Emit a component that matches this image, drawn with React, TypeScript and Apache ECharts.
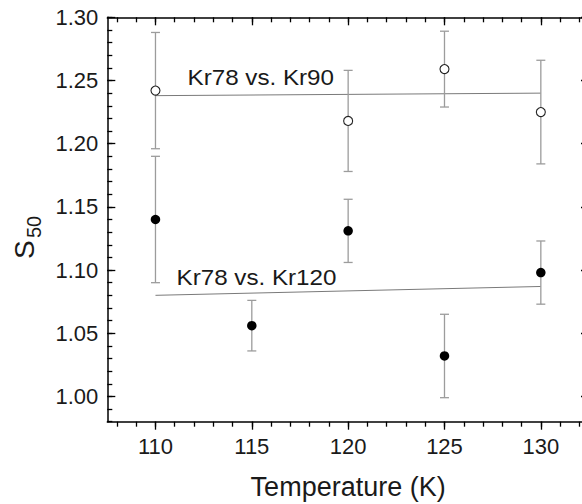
import React, { useEffect, useRef } from "react";
import * as echarts from "echarts";

// ---- data ----
const temps90 = [110, 120, 125, 130];
const s90 = [1.242, 1.218, 1.259, 1.225];
const err90 = [0.046, 0.040, 0.030, 0.041];

const temps120 = [110, 115, 120, 125, 130];
const s120 = [1.140, 1.056, 1.131, 1.032, 1.098];
const err120 = [0.050, 0.020, 0.025, 0.033, 0.025];

const fit90X = [110, 130];
const fit90Y = [1.238, 1.240];
const fit120X = [110, 130];
const fit120Y = [1.080, 1.087];

const xMajor = [110, 115, 120, 125, 130];
const xMinor = [108, 109, 110, 111, 112, 113, 114, 115, 116, 117, 118, 119, 120, 121, 122, 123, 124, 125, 126, 127, 128, 129, 130, 131, 132];
const yMajor = [1.0, 1.05, 1.1, 1.15, 1.2, 1.25, 1.3];
const yMinor = [0.98, 0.99, 1.0, 1.01, 1.02, 1.03, 1.04, 1.05, 1.06, 1.07, 1.08, 1.09, 1.1, 1.11, 1.12, 1.13, 1.14, 1.15, 1.16, 1.17, 1.18, 1.19, 1.2, 1.21, 1.22, 1.23, 1.24, 1.25, 1.26, 1.27, 1.28, 1.29, 1.3];

const label90 = "Kr78 vs. Kr90";
const label120 = "Kr78 vs. Kr120";
const xName = "Temperature (K)";

const FONT = '"Liberation Sans", Arial, Helvetica, sans-serif';
const TXT = "#1a1a1a";
const X_MIN = 107.5, X_MAX = 132.5, Y_MIN = 0.98, Y_MAX = 1.3;

export default function App() {
  const ref = useRef<HTMLDivElement>(null);
  useEffect(() => {
    if (!ref.current) return;
    const chart = echarts.init(ref.current, undefined, { renderer: "svg" });

    const errData = [
      ...temps90.map((t, i) => [t, s90[i] - err90[i], s90[i] + err90[i]]),
      ...temps120.map((t, i) => [t, s120[i] - err120[i], s120[i] + err120[i]]),
    ];

    const axisLine = { show: true, lineStyle: { color: "#000", width: 1.5 } };
    const tickStyle = { color: "#000", width: 1.3 };

    const xBase = { type: "value", min: X_MIN, max: X_MAX, splitLine: { show: false } };
    const yBase = { type: "value", min: Y_MIN, max: Y_MAX, splitLine: { show: false } };

    const option: any = {
      animation: false,
      grid: { left: 107.3, top: 17.3, right: -7, bottom: 82.3, containLabel: false, outerBoundsMode: "none" },
      xAxis: [
        {
          ...xBase, position: "bottom", axisLine,
          axisTick: { show: true, inside: false, length: 8, customValues: xMajor, lineStyle: tickStyle },
          axisLabel: { show: true, customValues: xMajor, fontSize: 22, fontFamily: FONT, color: TXT, margin: 14 },
          name: xName, nameLocation: "middle", nameGap: 52,
          nameTextStyle: { fontSize: 27, fontFamily: FONT, color: TXT },
        },
        {
          ...xBase, position: "bottom", axisLine: { show: false },
          axisTick: { show: true, inside: false, length: 5, customValues: xMinor, lineStyle: tickStyle },
          axisLabel: { show: false },
        },
        {
          ...xBase, position: "top", axisLine,
          axisTick: { show: true, inside: true, length: 8, customValues: xMajor, lineStyle: tickStyle },
          axisLabel: { show: false },
        },
        {
          ...xBase, position: "top", axisLine: { show: false },
          axisTick: { show: true, inside: true, length: 5, customValues: xMinor, lineStyle: tickStyle },
          axisLabel: { show: false },
        },
      ],
      yAxis: [
        {
          ...yBase, position: "left", axisLine,
          axisTick: { show: true, inside: true, length: 8, customValues: yMajor, lineStyle: tickStyle },
          axisLabel: {
            show: true, customValues: yMajor, fontSize: 22, fontFamily: FONT, color: TXT, margin: 9,
            formatter: (v: number) => v.toFixed(2),
          },
        },
        {
          ...yBase, position: "left", axisLine: { show: false },
          axisTick: { show: true, inside: true, length: 5, customValues: yMinor, lineStyle: tickStyle },
          axisLabel: { show: false },
        },
        {
          ...yBase, position: "right", axisLine,
          axisTick: { show: true, inside: true, length: 8, customValues: yMajor, lineStyle: tickStyle },
          axisLabel: { show: false },
        },
        {
          ...yBase, position: "right", axisLine: { show: false },
          axisTick: { show: true, inside: true, length: 5, customValues: yMinor, lineStyle: tickStyle },
          axisLabel: { show: false },
        },
      ],
      series: [
        {
          type: "line", xAxisIndex: 0, yAxisIndex: 0, symbol: "none",
          data: fit90X.map((x, i) => [x, fit90Y[i]]),
          lineStyle: { color: "#7a7a7a", width: 1 }, z: 1,
        },
        {
          type: "line", xAxisIndex: 0, yAxisIndex: 0, symbol: "none",
          data: fit120X.map((x, i) => [x, fit120Y[i]]),
          lineStyle: { color: "#7a7a7a", width: 1 }, z: 1,
        },
        {
          type: "custom", xAxisIndex: 0, yAxisIndex: 0, z: 2,
          data: errData,
          renderItem: (params: any, api: any) => {
            const x = api.value(0);
            const lo = api.coord([x, api.value(1)]);
            const hi = api.coord([x, api.value(2)]);
            const h = 4.5;
            const st = { stroke: "#9c9c9c", lineWidth: 1.3 };
            return {
              type: "group",
              children: [
                { type: "line", shape: { x1: lo[0], y1: lo[1], x2: hi[0], y2: hi[1] }, style: st },
                { type: "line", shape: { x1: lo[0] - h, y1: lo[1], x2: lo[0] + h, y2: lo[1] }, style: st },
                { type: "line", shape: { x1: hi[0] - h, y1: hi[1], x2: hi[0] + h, y2: hi[1] }, style: st },
              ],
            };
          },
        },
        {
          type: "scatter", xAxisIndex: 0, yAxisIndex: 0, z: 3,
          symbol: "circle", symbolSize: 9,
          data: temps90.map((t, i) => [t, s90[i]]),
          itemStyle: { color: "#fff", borderColor: "#222", borderWidth: 1.1, opacity: 1 },
        },
        {
          type: "scatter", xAxisIndex: 0, yAxisIndex: 0, z: 3,
          symbol: "circle", symbolSize: 9.5,
          data: temps120.map((t, i) => [t, s120[i]]),
          itemStyle: { color: "#000", opacity: 1 },
        },
      ],
      graphic: [
        {
          type: "text", x: 187.5, y: 77, scaleX: 1.1, z: 10,
          style: { text: label90, font: `22px ${FONT}`, fill: TXT, align: "left", verticalAlign: "middle", textAlign: "left", textVerticalAlign: "middle" },
        },
        {
          type: "text", x: 176.5, y: 277.5, scaleX: 1.1, z: 10,
          style: { text: label120, font: `22px ${FONT}`, fill: TXT, align: "left", verticalAlign: "middle", textAlign: "left", textVerticalAlign: "middle" },
        },
        {
          type: "group", x: 24, y: 259, rotation: Math.PI / 2, z: 10,
          children: [
            {
              type: "text", x: 0, y: 0,
              style: { text: "S", font: `28px ${FONT}`, fill: TXT, align: "left", verticalAlign: "middle", textAlign: "left", textVerticalAlign: "middle" },
            },
            {
              type: "text", x: 21, y: 10,
              style: { text: "50", font: `20px ${FONT}`, fill: TXT, align: "left", verticalAlign: "middle", textAlign: "left", textVerticalAlign: "middle" },
            },
          ],
        },
      ],
    };

    chart.setOption(option);
    return () => chart.dispose();
  }, []);

  return <div ref={ref} style={{ width: 582, height: 504, position: "absolute", left: 0, top: 0, background: "#fff" }} />;
}
